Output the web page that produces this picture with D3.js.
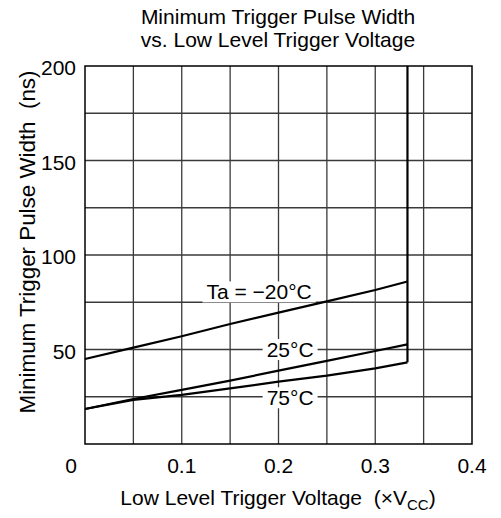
<!DOCTYPE html>
<html>
<head>
<meta charset="utf-8">
<script src="https://cdn.jsdelivr.net/npm/d3@7"></script>
<style>
body { margin: 0; background: #fff; }
text { font-family: "Liberation Sans", Arial, sans-serif; fill: #000; white-space: pre; }
</style>
</head>
<body>
<div id="container"></div>
<script>

var xTicks = [0, 0.1, 0.2, 0.3, 0.4];
var yTicks = [50, 100, 150, 200];
var xGrid = [0.05, 0.1, 0.15, 0.2, 0.25, 0.3, 0.35];
var yGrid = [25, 50, 75, 100, 125, 150, 175];

// trigger voltage (x Vcc) and pulse width (ns) per temperature
var voltage = [0, 0.05, 0.1, 0.15, 0.2, 0.25, 0.3, 0.3333];
var widthM20 = [45, 51, 57, 63.5, 69.5, 75.5, 81.5, 86];
var width25 = [18.5, 23.8, 28.6, 33.5, 38.8, 44, 49.2, 52.7];
var width75 = [18.5, 23.3, 26, 29.4, 33, 36.2, 40, 43.2];
var limitV = [0.3333, 0.3333];
var limitW = [43.2, 200];

var labelText = ["Ta = \u221220\u00b0C", "25\u00b0C", "75\u00b0C"];
var labelV = [0.18, 0.212, 0.212];
var labelW = [80.5, 50, 24.5];


function pairs(xs, ys) {
	var out = [];
	for (var i = 0; i < xs.length; i++) {
		out.push([xs[i], ys[i]]);
	};
	return out;
};


function drawit() {
	var width = 501, height = 518;
	var left = 85, right = 472, top = 66, bottom = 444;

	var svg = d3.select("#container")
		.append("svg")
		.attr("width", width)
		.attr("height", height);

	var x = d3.scaleLinear().domain([0, 0.4]).range([left, right]);
	var y = d3.scaleLinear().domain([0, 200]).range([bottom, top]);

	// grid
	var grid = svg.append("g").attr("stroke", "#3a3a3a").attr("stroke-width", 1.3);
	grid.selectAll("line.vx")
		.data(xGrid)
		.enter()
		.append("line")
		.attr("x1", function(d) { return x(d) })
		.attr("x2", function(d) { return x(d) })
		.attr("y1", top)
		.attr("y2", bottom);
	grid.selectAll("line.hy")
		.data(yGrid)
		.enter()
		.append("line")
		.attr("x1", left)
		.attr("x2", right)
		.attr("y1", function(d) { return y(d) })
		.attr("y2", function(d) { return y(d) });

	// curve labels: white boxes over the grid
	var labs = svg.append("g").attr("font-size", 21).attr("text-anchor", "middle");
	for (var i = 0; i < labelText.length; i++) {
		var bg = labs.append("rect").attr("fill", "#fff");
		var t = labs.append("text")
			.attr("x", x(labelV[i]))
			.attr("y", y(labelW[i]))
			.attr("dy", "0.36em")
			.text(labelText[i]);
		var b = t.node().getBBox();
		bg.attr("x", b.x - 4).attr("y", b.y + 1).attr("width", b.width + 8).attr("height", b.height - 2);
	};

	// curves
	var line = d3.line()
		.x(function(d) { return x(d[0]) })
		.y(function(d) { return y(d[1]) });
	var series = [pairs(voltage, widthM20), pairs(voltage, width25), pairs(voltage, width75), pairs(limitV, limitW)];
	svg.selectAll("path.curve")
		.data(series)
		.enter()
		.append("path")
		.attr("d", line)
		.attr("fill", "none")
		.attr("stroke", "#000")
		.attr("stroke-width", 2.2);

	// frame
	svg.append("rect")
		.attr("x", left)
		.attr("y", top)
		.attr("width", right - left)
		.attr("height", bottom - top)
		.attr("fill", "none")
		.attr("stroke", "#000")
		.attr("stroke-width", 1.5);

	// tick labels
	svg.selectAll("text.xt")
		.data(xTicks)
		.enter()
		.append("text")
		.attr("x", function(d) { return d == 0 ? x(d) - 14 : x(d) })
		.attr("y", 473)
		.attr("text-anchor", "middle")
		.attr("font-size", 21)
		.text(function(d) { return d == 0 ? "0" : d3.format(".1f")(d) });
	svg.selectAll("text.yt")
		.data(yTicks)
		.enter()
		.append("text")
		.attr("x", 76)
		.attr("y", function(d) { return y(d) })
		.attr("dy", "0.45em")
		.attr("text-anchor", "end")
		.attr("font-size", 21)
		.text(function(d) { return d });

	// titles
	var title = svg.append("text")
		.attr("text-anchor", "middle")
		.attr("font-size", 21);
	title.append("tspan").attr("x", 278).attr("y", 24).text("Minimum Trigger Pulse Width");
	title.append("tspan").attr("x", 278).attr("y", 47).text("vs. Low Level Trigger Voltage");

	var xt = svg.append("text")
		.attr("x", 278)
		.attr("y", 505)
		.attr("text-anchor", "middle")
		.attr("font-size", 21);
	xt.append("tspan").text("Low Level Trigger Voltage  (\u00d7V");
	xt.append("tspan").attr("font-size", 15).attr("dy", 5).text("CC");
	xt.append("tspan").attr("dy", -5).text(")");

	svg.append("text")
		.attr("transform", "translate(35,242) rotate(-90)")
		.attr("text-anchor", "middle")
		.attr("font-size", 22.5)
		.attr("textLength", 343)
		.attr("lengthAdjust", "spacingAndGlyphs")
		.text("Minimum Trigger Pulse Width  (ns)");
};


drawit();

</script>
</body>
</html>
